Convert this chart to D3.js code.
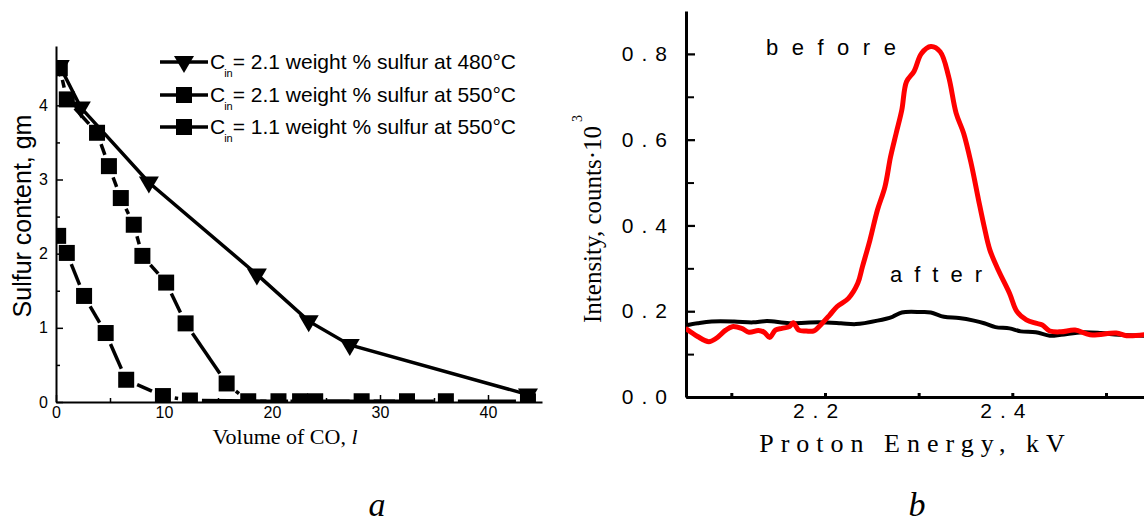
<!DOCTYPE html>
<html><head><meta charset="utf-8">
<script src="https://cdn.jsdelivr.net/npm/d3@7"></script>
<style>body{margin:0;background:#fff} svg{display:block}</style>
</head><body>
<svg id="c" width="1144" height="524"></svg>
<script>
// ---------- Panel a data ----------
const s1X = [0.35, 2.3, 8.6, 18.6, 23.4, 27.2, 43.7];
const s1Y = [4.53, 3.97, 2.96, 1.72, 1.09, 0.77, 0.10];
const s2X = [0.35, 1.0, 3.8, 4.9, 6.0, 7.2, 8.0, 10.2, 12.0, 15.8, 17.8, 22.6, 28.3, 36.1, 43.7];
const s2Y = [4.50, 4.08, 3.63, 3.18, 2.75, 2.39, 1.97, 1.61, 1.06, 0.25, 0.01, 0.01, 0.01, 0.01, 0.01];
const s3X = [0.2, 1.0, 2.6, 4.6, 6.5, 9.9, 12.4, 20.6, 24.0, 32.5];
const s3Y = [2.24, 2.01, 1.43, 0.93, 0.30, 0.08, 0.02, 0.01, 0.01, 0.01];
const legendLabels = ["= 2.1 weight % sulfur at 480°C", "= 2.1 weight % sulfur at 550°C", "= 1.1 weight % sulfur at 550°C"];
const legendMarkers = ["tri", "sq", "sq"];
const aXTicks = [0, 10, 20, 30, 40];
const aXMinor = [5, 15, 25, 35];
const aYTicks = [0, 1, 2, 3, 4];
const aYMinor = [0.5, 1.5, 2.5, 3.5, 4.5];

// ---------- Panel b data ----------
const beforeX = [2.051,2.064,2.076,2.084,2.094,2.101,2.111,2.119,2.129,2.135,2.141,2.147,2.154,2.162,2.166,2.172,2.180,2.188,2.197,2.205,2.213,2.225,2.235,2.240,2.248,2.256,2.264,2.270,2.276,2.282,2.287,2.295,2.303,2.313,2.323,2.332,2.340,2.348,2.356,2.364,2.370,2.376,2.385,2.397,2.405,2.415,2.425,2.432,2.440,2.452,2.467,2.483,2.511,2.522,2.541];
const beforeY = [0.160,0.141,0.129,0.137,0.156,0.164,0.160,0.151,0.155,0.151,0.139,0.156,0.160,0.164,0.173,0.156,0.154,0.154,0.172,0.191,0.211,0.230,0.265,0.304,0.366,0.436,0.490,0.560,0.615,0.669,0.735,0.759,0.801,0.817,0.805,0.747,0.662,0.615,0.545,0.459,0.397,0.343,0.296,0.242,0.199,0.180,0.172,0.168,0.154,0.152,0.156,0.145,0.149,0.143,0.145];
const afterX = [2.051,2.064,2.079,2.103,2.123,2.138,2.162,2.193,2.217,2.233,2.256,2.272,2.282,2.303,2.313,2.327,2.343,2.359,2.370,2.382,2.397,2.409,2.425,2.440,2.452,2.475,2.495,2.514,2.541];
const afterY = [0.167,0.172,0.176,0.176,0.174,0.177,0.172,0.174,0.172,0.170,0.178,0.187,0.197,0.198,0.197,0.187,0.184,0.178,0.172,0.163,0.160,0.153,0.151,0.143,0.145,0.151,0.149,0.145,0.143];
const bXTicks = [2.2, 2.4];
const bXMinor = [2.1, 2.3, 2.5];
const bYTicks = [0, 0.2, 0.4, 0.6, 0.8];
const bYMinor = [0.1, 0.3, 0.5, 0.7];

const SANS = "'Liberation Sans', Arial, sans-serif";
const SERIF = "'Liberation Serif', 'Times New Roman', serif";
const svg = d3.select("#c");

// ================= Panel a =================
const ax = d3.scaleLinear().domain([0, 45]).range([56, 542]);
const ay = d3.scaleLinear().domain([0, 4.8]).range([402, 46]);
const ga = svg.append("g");
ga.append("clipPath").attr("id", "clipA").append("rect")
  .attr("x", ax(0)).attr("y", ay(4.8) - 12).attr("width", ax(45) - ax(0) + 4).attr("height", ay(0) - ay(4.8) + 12);

function styleAxis(g, w) {
  g.select(".domain").attr("stroke", "#000").attr("stroke-width", w);
  g.selectAll(".tick line").attr("stroke", "#000").attr("stroke-width", w * 0.75);
}
// minor ticks
ga.append("g").attr("transform", `translate(0,${ay(0)})`)
  .call(d3.axisBottom(ax).tickValues(aXMinor).tickSize(-4).tickFormat(""))
  .call(g => { g.select(".domain").remove(); g.selectAll("line").attr("stroke", "#000").attr("stroke-width", 1.5); });
ga.append("g").attr("transform", `translate(${ax(0)},0)`)
  .call(d3.axisLeft(ay).tickValues(aYMinor).tickSize(-4).tickFormat(""))
  .call(g => { g.select(".domain").remove(); g.selectAll("line").attr("stroke", "#000").attr("stroke-width", 1.5); });
// major
ga.append("g").attr("transform", `translate(0,${ay(0)})`)
  .call(d3.axisBottom(ax).tickValues(aXTicks).tickSize(-7).tickSizeOuter(0).tickPadding(5).tickFormat(d3.format("d")))
  .call(g => styleAxis(g, 2))
  .call(g => g.selectAll("text").attr("font-family", SANS).attr("font-size", 16).attr("fill", "#000"));
ga.append("g").attr("transform", `translate(${ax(0)},0)`)
  .call(d3.axisLeft(ay).tickValues(aYTicks).tickSize(-7).tickSizeOuter(0).tickPadding(8).tickFormat(d3.format("d")))
  .call(g => styleAxis(g, 2))
  .call(g => g.selectAll("text").attr("font-family", SANS).attr("font-size", 16).attr("fill", "#000"));

const plotA = ga.append("g").attr("clip-path", "url(#clipA)");
function gappedSegments(g, xs, ys, gap, sw) {
  for (let i = 0; i < xs.length - 1; i++) {
    const x0 = ax(xs[i]), y0 = ay(ys[i]), x1 = ax(xs[i + 1]), y1 = ay(ys[i + 1]);
    const L = Math.hypot(x1 - x0, y1 - y0);
    if (L <= 2 * gap) continue;
    const ux = (x1 - x0) / L, uy = (y1 - y0) / L;
    g.append("line").attr("x1", x0 + ux * gap).attr("y1", y0 + uy * gap)
      .attr("x2", x1 - ux * gap).attr("y2", y1 - uy * gap)
      .attr("stroke", "#000").attr("stroke-width", sw);
  }
}
const SQ = 16;
const triPath = "M-10,-6L10,-6L0,11Z";
function drawSquares(g, xs, ys, size) {
  g.selectAll(null).data(xs.map((x, i) => [x, ys[i]])).enter().append("rect")
    .attr("x", d => ax(d[0]) - size / 2).attr("y", d => ay(d[1]) - size / 2)
    .attr("width", size).attr("height", size).attr("fill", "#000");
}
gappedSegments(plotA, s3X, s3Y, 12, 3.5);
drawSquares(plotA, s3X, s3Y, SQ);
gappedSegments(plotA, s2X, s2Y, 12, 3.5);
drawSquares(plotA, s2X, s2Y, SQ);
plotA.append("path").datum(s1X.map((x, i) => [x, s1Y[i]]))
  .attr("d", d3.line().x(d => ax(d[0])).y(d => ay(d[1])))
  .attr("fill", "none").attr("stroke", "#000").attr("stroke-width", 3.5);
plotA.selectAll(null).data(s1X.map((x, i) => [x, s1Y[i]])).enter().append("path")
  .attr("d", triPath).attr("transform", d => `translate(${ax(d[0])},${ay(d[1])})`).attr("fill", "#000");

// legend
const legRows = [62, 95, 127];
legendLabels.forEach((lab, i) => {
  const y = legRows[i];
  ga.append("line").attr("x1", 160).attr("x2", 208).attr("y1", y).attr("y2", y).attr("stroke", "#000").attr("stroke-width", 3.5);
  if (legendMarkers[i] === "tri") ga.append("path").attr("d", triPath).attr("transform", `translate(184,${y})`).attr("fill", "#000");
  else ga.append("rect").attr("x", 184 - 8).attr("y", y - 8).attr("width", 16).attr("height", 16).attr("fill", "#000");
  const t = ga.append("text").attr("x", 210).attr("y", y + 7).attr("font-family", SANS).attr("font-size", 21).attr("fill", "#000");
  t.append("tspan").text("C");
  t.append("tspan").attr("font-size", 11).attr("dy", 8).attr("dx", -1).text("in");
  t.append("tspan").attr("dy", -8).text(lab);
});

// axis titles a
ga.append("text").attr("transform", "translate(31,216) rotate(-90)").attr("text-anchor", "middle")
  .attr("font-family", SANS).attr("font-size", 25).attr("fill", "#000").text("Sulfur content, gm");
const xt = ga.append("text").attr("x", 285).attr("y", 444).attr("text-anchor", "middle")
  .attr("font-family", SERIF).attr("font-size", 22).attr("fill", "#000");
xt.append("tspan").text("Volume of CO, ");
xt.append("tspan").attr("font-style", "italic").text("l");

ga.append("text").attr("x", 377).attr("y", 516).attr("text-anchor", "middle")
  .attr("font-family", SERIF).attr("font-style", "italic").attr("font-size", 34).attr("fill", "#000").text("a");

// ================= Panel b =================
const bx = d3.scaleLinear().domain([2.0516, 2.5406]).range([686, 1144]);
const by = d3.scaleLinear().domain([0, 0.9]).range([397, 11]);
const gb = svg.append("g");
gb.append("clipPath").attr("id", "clipB").append("rect")
  .attr("x", bx(2.0516)).attr("y", by(0.9)).attr("width", 1144 - 686).attr("height", by(0) - by(0.9));

gb.append("g").attr("transform", `translate(0,${by(0)})`)
  .call(d3.axisBottom(bx).tickValues(bXMinor.concat(bXTicks)).tickSize(-4).tickFormat(""))
  .call(g => { g.select(".domain").remove(); g.selectAll("line").attr("stroke", "#000").attr("stroke-width", 3); });
gb.append("g").attr("transform", `translate(${bx(2.0516)},0)`)
  .call(d3.axisLeft(by).tickValues(bYMinor).tickSize(-8).tickFormat(""))
  .call(g => { g.select(".domain").remove(); g.selectAll("line").attr("stroke", "#000").attr("stroke-width", 2); });
gb.append("g").attr("transform", `translate(0,${by(0)})`)
  .call(d3.axisBottom(bx).tickValues(bXTicks).tickSize(0).tickSizeOuter(0).tickPadding(6).tickFormat(d3.format(".1f")))
  .call(g => styleAxis(g, 3))
  .call(g => g.selectAll("text").attr("font-family", SANS).attr("font-size", 21).attr("fill", "#000")
    .style("letter-spacing", "8px").attr("dx", -6));
gb.append("g").attr("transform", `translate(${bx(2.0516)},0)`)
  .call(d3.axisLeft(by).tickValues(bYTicks).tickSize(-9).tickSizeOuter(0).tickPadding(11).tickFormat(d3.format(".1f")))
  .call(g => styleAxis(g, 3))
  .call(g => g.selectAll("text").attr("font-family", SANS).attr("font-size", 21).attr("fill", "#000")
    .style("letter-spacing", "8px"));

const plotB = gb.append("g").attr("clip-path", "url(#clipB)");
const lineB = d3.line().x(d => bx(d[0])).y(d => by(d[1])).curve(d3.curveCatmullRom);
plotB.append("path").datum(afterX.map((x, i) => [x, afterY[i]]))
  .attr("d", lineB).attr("fill", "none").attr("stroke", "#000").attr("stroke-width", 4).attr("stroke-linejoin", "round");
plotB.append("path").datum(beforeX.map((x, i) => [x, beforeY[i]]))
  .attr("d", lineB).attr("fill", "none").attr("stroke", "#ff0000").attr("stroke-width", 5).attr("stroke-linejoin", "round");

gb.append("text").attr("x", 766).attr("y", 55).attr("font-family", SANS).attr("font-size", 22).attr("fill", "#000")
  .style("letter-spacing", "13.5px").text("before");
gb.append("text").attr("x", 890).attr("y", 282).attr("font-family", SANS).attr("font-size", 22).attr("fill", "#000")
  .style("letter-spacing", "12px").text("after");

const yt = gb.append("text").attr("transform", "translate(601,219) rotate(-90)").attr("text-anchor", "middle")
  .attr("font-family", SERIF).attr("font-size", 25).attr("fill", "#000");
yt.append("tspan").text("Intensity, counts·10");
yt.append("tspan").attr("font-size", 14).attr("dy", -19).attr("dx", 4).text("3");

gb.append("text").attr("x", 915.5).attr("y", 452).attr("text-anchor", "middle")
  .attr("font-family", SERIF).attr("font-size", 26).attr("fill", "#000")
  .style("letter-spacing", "7px").text("Proton Energy, kV");

gb.append("text").attr("x", 917).attr("y", 516).attr("text-anchor", "middle")
  .attr("font-family", SERIF).attr("font-style", "italic").attr("font-size", 34).attr("fill", "#000").text("b");
</script>
</body></html>
